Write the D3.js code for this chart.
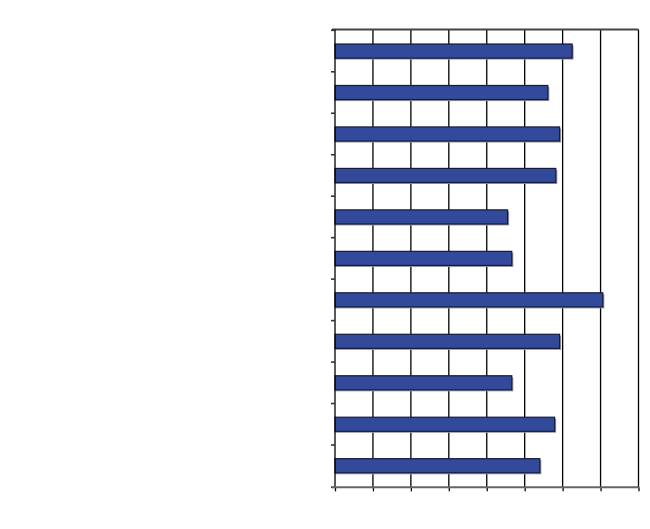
<!DOCTYPE html>
<html lang="en">
<head>
<meta charset="utf-8">
<title>Bars</title>
<style>
  body { margin: 0; background: #fff; font-family: "Liberation Sans", Arial, sans-serif; }
  svg { display: block; }
</style>
<script src="https://d3js.org/d3.v7.min.js"></script>
</head>
<body>
<script>
// data (no labels are visible in it)
var categories = ["1", "2", "3", "4", "5", "6", "7", "8", "9", "10", "11"];
var values = [6.25, 5.61, 5.92, 5.82, 4.55, 4.66, 7.06, 5.92, 4.66, 5.79, 5.40];
var xTicks = [0, 1, 2, 3, 4, 5, 6, 7, 8];

var width = 650, height = 529;
// note: "top" is taken by window.top, so prefix the plot edges
var plotLeft = 335, plotRight = 638.5, plotTop = 29.5, plotBottom = 487.3;

var svg = d3.select("body").append("svg")
    .attr("width", width)
    .attr("height", height);

var x = d3.scaleLinear().domain([0, 8]).range([plotLeft, plotRight]);
var y = d3.scaleBand().domain(categories).range([plotTop, plotBottom])
    .paddingInner(0.66).paddingOuter(0.35);

// vertical gridlines
svg.append("g").selectAll("line")
    .data(xTicks.slice(1))
    .enter().append("line")
    .attr("x1", function(d) { return x(d); })
    .attr("x2", function(d) { return x(d); })
    .attr("y1", plotTop).attr("y2", plotBottom)
    .attr("stroke", "#000").attr("stroke-width", 1.3);

// top border
svg.append("line")
    .attr("x1", plotLeft - 3).attr("x2", plotRight)
    .attr("y1", plotTop).attr("y2", plotTop)
    .attr("stroke", "#444").attr("stroke-width", 1.8);

// bar shadows
svg.append("g").selectAll("rect")
    .data(values)
    .enter().append("rect")
    .attr("x", x(0))
    .attr("y", function(d, i) { return y(categories[i]) + 1.5; })
    .attr("width", function(d) { return x(d) - x(0) + 1.5; })
    .attr("height", y.bandwidth())
    .attr("fill", "#999");

// bars
svg.append("g").selectAll("rect")
    .data(values)
    .enter().append("rect")
    .attr("x", x(0))
    .attr("y", function(d, i) { return y(categories[i]); })
    .attr("width", function(d) { return x(d) - x(0); })
    .attr("height", y.bandwidth())
    .attr("fill", "#334a9a")
    .attr("stroke", "#141a40")
    .attr("stroke-width", 1.2);

// left axis, category boundaries as ticks
var yBounds = categories.map(function(c) { return y(c) - y.step() * y.paddingInner() / 2; });
yBounds.push(plotBottom);
var yAxis = svg.append("g");
yAxis.append("line")
    .attr("x1", plotLeft).attr("x2", plotLeft)
    .attr("y1", plotTop).attr("y2", plotBottom)
    .attr("stroke", "#000").attr("stroke-width", 1.3);
yAxis.selectAll("line.tick")
    .data(yBounds)
    .enter().append("line")
    .attr("class", "tick")
    .attr("x1", plotLeft - 4).attr("x2", plotLeft)
    .attr("y1", function(d) { return d; })
    .attr("y2", function(d) { return d; })
    .attr("stroke", "#333").attr("stroke-width", 1.6);

// bottom axis
var xAxis = d3.axisBottom(x).tickValues(xTicks).tickSize(4).tickFormat("");
svg.append("g")
    .attr("transform", "translate(0," + plotBottom + ")")
    .call(xAxis)
    .call(function(g) {
        g.select(".domain").remove();
        g.selectAll(".tick line").attr("stroke", "#000").attr("stroke-width", 1.3);
    });
svg.append("line")
    .attr("x1", plotLeft - 3).attr("x2", plotRight)
    .attr("y1", plotBottom).attr("y2", plotBottom)
    .attr("stroke", "#666").attr("stroke-width", 2);
</script>
</body>
</html>
